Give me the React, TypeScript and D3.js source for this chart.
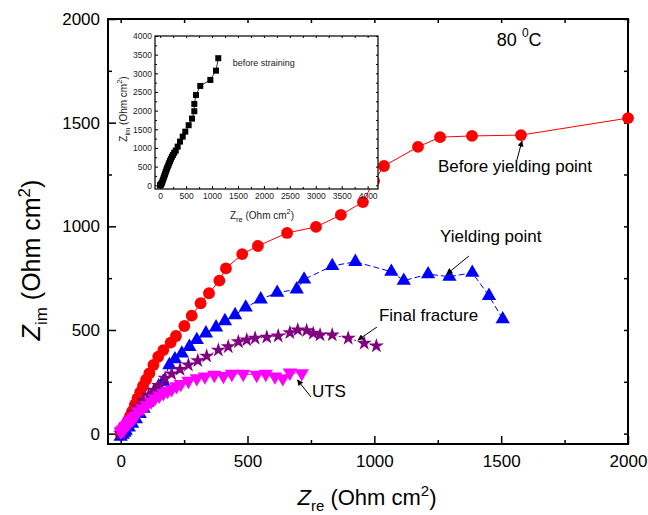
import React, { useEffect, useRef } from "react";
import * as d3 from "d3";

// Nyquist data, Ohm cm^2
const beforeYielding = [
  [0, 0], [5, 8], [12, 22], [20, 40], [28, 60], [37, 85], [46, 110], [56, 140], [66, 170],
  [77, 200], [88, 230], [100, 260], [113, 291], [129, 331], [148, 371], [168, 403], [197, 439],
  [218, 471], [251, 519], [280, 569], [315, 629], [348, 677], [389, 738], [415, 797], [479, 866],
  [541, 905], [656, 968], [770, 997], [868, 1055], [955, 1117], [999, 1219], [1038, 1291],
  [1172, 1383], [1259, 1430], [1385, 1436], [1578, 1440], [2000, 1522],
];
const yielding = [
  [0, -15], [8, -5], [15, 5], [20, 15], [32, 30], [45, 48], [60, 70], [75, 95], [90, 120],
  [105, 150], [120, 175], [135, 200], [150, 228], [168, 250], [192, 331], [214, 359], [241, 387],
  [271, 419], [300, 452], [336, 484], [376, 513], [411, 543], [451, 572], [493, 609], [552, 648],
  [617, 680], [694, 696], [723, 744], [834, 809], [925, 829], [1067, 781], [1116, 738],
  [1212, 769], [1296, 757], [1386, 776], [1452, 665], [1506, 552],
];
const finalFracture = [
  [0, 0], [3, 5], [10, 20], [20, 40], [35, 70], [50, 100], [70, 130], [90, 160], [110, 185],
  [130, 210], [150, 232], [175, 267], [201, 288], [234, 310], [267, 331], [304, 352], [339, 374],
  [385, 403], [424, 419], [464, 443], [497, 452], [530, 460], [576, 465], [621, 471], [667, 487],
  [698, 500], [733, 497], [759, 484], [786, 476], [834, 476], [897, 460], [960, 436], [1008, 423],
];
const uts = [
  [0, 10], [5, 14], [10, 20], [15, 28], [20, 36], [26, 44], [32, 52], [38, 60], [45, 68],
  [52, 77], [60, 87], [69, 106], [86, 122], [103, 138], [120, 155], [135, 170], [152, 183],
  [168, 195], [185, 205], [201, 214], [220, 228], [237, 239], [267, 254], [300, 267], [332, 275],
  [369, 283], [405, 278], [438, 288], [483, 288], [536, 283], [572, 288], [608, 275], [639, 267],
  [667, 294], [714, 291],
];
const beforeStraining = [
  [0, 0], [2, 2], [8, 10], [18, 30], [30, 60], [42, 100], [55, 150], [68, 200], [80, 250],
  [92, 300], [105, 350], [118, 400], [130, 450], [145, 500], [160, 550], [175, 600], [190, 650],
  [205, 700], [225, 760], [245, 810], [270, 870], [300, 930], [337, 1035], [382, 1170],
  [434, 1303], [484, 1437], [549, 1609], [613, 1786], [658, 1984], [658, 2180], [690, 2418],
  [773, 2662], [967, 2823], [1076, 3072], [1120, 3405],
];

const mainTicks = [0, 500, 1000, 1500, 2000];
const mainMinor = [250, 750, 1250, 1750];
const insetTicks = [0, 500, 1000, 1500, 2000, 2500, 3000, 3500, 4000];
const insetMinor = [250, 750, 1250, 1750, 2250, 2750, 3250, 3750];

const FONT = "Arial, 'Liberation Sans', sans-serif";

const App = () => {
  const ref = useRef();

  useEffect(() => {
    const svg = d3.select(ref.current);
    svg.selectAll("*").remove();

    const x = d3.scaleLinear([-50, 2000], [108, 628]);
    const y = d3.scaleLinear([-50, 2000], [444, 19]);

    svg
      .append("defs")
      .append("marker")
      .attr("id", "arr")
      .attr("viewBox", "0 0 10 10")
      .attr("refX", 9)
      .attr("refY", 5)
      .attr("markerWidth", 8)
      .attr("markerHeight", 6)
      .attr("markerUnits", "userSpaceOnUse")
      .attr("orient", "auto")
      .append("path")
      .attr("d", "M0,0 L10,5 L0,10 z")
      .attr("fill", "#000");

    // axes with inward ticks
    const axisStyle = (g, size) =>
      g
        .call((g) => g.select(".domain").remove())
        .attr("font-family", FONT)
        .attr("font-size", size)
        .call((g) => g.selectAll("text").attr("fill", "#000"))
        .call((g) => g.selectAll("line").attr("stroke", "#000").attr("stroke-width", 1.5));

    svg.append("g").attr("transform", "translate(108,0)")
      .call(d3.axisLeft(y).tickValues(mainTicks).tickSize(-8).tickPadding(8).tickFormat(d3.format("d")))
      .call((g) => axisStyle(g, 17));
    svg.append("g").attr("transform", "translate(108,0)")
      .call(d3.axisLeft(y).tickValues(mainMinor).tickSize(-4).tickFormat(() => ""))
      .call((g) => axisStyle(g, 17));
    svg.append("g").attr("transform", "translate(628,0)")
      .call(d3.axisRight(y).tickValues(mainTicks.concat(mainMinor)).tickSize(-4).tickFormat(() => ""))
      .call((g) => axisStyle(g, 17));
    svg.append("g").attr("transform", "translate(0,444)")
      .call(d3.axisBottom(x).tickValues(mainTicks).tickSize(-8).tickPadding(11).tickFormat(d3.format("d")))
      .call((g) => axisStyle(g, 17));
    svg.append("g").attr("transform", "translate(0,444)")
      .call(d3.axisBottom(x).tickValues(mainMinor).tickSize(-4).tickFormat(() => ""))
      .call((g) => axisStyle(g, 17));
    svg.append("g").attr("transform", "translate(0,19)")
      .call(d3.axisTop(x).tickValues(mainTicks.concat(mainMinor)).tickSize(-4).tickFormat(() => ""))
      .call((g) => axisStyle(g, 17));

    svg.append("rect")
      .attr("x", 108).attr("y", 19).attr("width", 520).attr("height", 425)
      .attr("fill", "none").attr("stroke", "#000").attr("stroke-width", 2);

    // axis titles
    const xt = svg.append("text").attr("x", 367).attr("y", 505)
      .attr("text-anchor", "middle").attr("font-family", FONT).attr("font-size", 22);
    xt.append("tspan").attr("font-style", "italic").text("Z");
    xt.append("tspan").attr("font-size", 15).attr("dy", 6).text("re");
    xt.append("tspan").attr("dy", -6).text(" (Ohm cm");
    xt.append("tspan").attr("font-size", 15).attr("dy", -9).text("2");
    xt.append("tspan").attr("dy", 9).text(")");

    const yt = svg.append("text").attr("transform", "translate(40,260) rotate(-90)")
      .attr("text-anchor", "middle").attr("font-family", FONT).attr("font-size", 25);
    yt.append("tspan").attr("font-style", "italic").text("Z");
    yt.append("tspan").attr("font-size", 17).attr("dy", 7).text("im");
    yt.append("tspan").attr("dy", -7).text(" (Ohm cm");
    yt.append("tspan").attr("font-size", 17).attr("dy", -10).text("2");
    yt.append("tspan").attr("dy", 10).text(")");

    // series
    const series = [
      { data: beforeYielding, color: "#FF0000", shape: d3.symbolCircle, size: 110, rot: 0, dash: null },
      { data: yielding, color: "#0000FF", shape: d3.symbolTriangle, size: 88, rot: 0, dash: "6,3" },
      { data: finalFracture, color: "#800080", shape: d3.symbolStar, size: 70, rot: 0, dash: "2,2" },
      { data: uts, color: "#FF00FF", shape: d3.symbolTriangle, size: 88, rot: 180, dash: "6,2,2,2" },
    ];
    const line = d3.line().x((d) => x(d[0])).y((d) => y(d[1]));
    series.forEach((s) => {
      const g = svg.append("g");
      g.append("path").attr("d", line(s.data)).attr("fill", "none")
        .attr("stroke", s.color).attr("stroke-width", 1)
        .attr("stroke-dasharray", s.dash);
      g.selectAll("path.m").data(s.data).join("path").attr("class", "m")
        .attr("d", d3.symbol(s.shape, s.size))
        .attr("transform", (d) => `translate(${x(d[0])},${y(d[1])}) rotate(${s.rot})`)
        .attr("fill", s.color);
    });

    // annotations
    const note = (tx, ty, label, ax1, ay1, ax2, ay2) => {
      svg.append("text").attr("x", x(tx)).attr("y", y(ty))
        .attr("font-family", FONT).attr("font-size", 17).attr("fill", "#000").text(label);
      svg.append("line").attr("x1", x(ax1)).attr("y1", y(ay1)).attr("x2", x(ax2)).attr("y2", y(ay2))
        .attr("stroke", "#000").attr("stroke-width", 1).attr("marker-end", "url(#arr)");
    };
    note(1251, 1262, "Before yielding point", 1562, 1320, 1582, 1411);
    note(1259, 924, "Yielding point", 1373, 857, 1286, 770);
    note(1018, 543, "Final fracture", 1010, 514, 936, 452);
    note(754, 177, "UTS", 750, 177, 697, 259);

    const temp = svg.append("text").attr("x", x(1483)).attr("y", y(1869))
      .attr("font-family", FONT).attr("font-size", 18);
    temp.append("tspan").text("80 ");
    temp.append("tspan").attr("font-size", 12).attr("dy", -9).text("0");
    temp.append("tspan").attr("dy", 9).text("C");

    // inset
    const ix = d3.scaleLinear([-100, 4200], [155, 378]);
    const iy = d3.scaleLinear([-100, 4000], [189, 36]);
    const inset = svg.append("g");
    inset.append("rect").attr("x", 155).attr("y", 36).attr("width", 223).attr("height", 153)
      .attr("fill", "#fff").attr("stroke", "none");
    const small = (g) =>
      g.call((g) => g.select(".domain").remove())
        .attr("font-family", FONT).attr("font-size", 8.5)
        .call((g) => g.selectAll("text").attr("fill", "#222"))
        .call((g) => g.selectAll("line").attr("stroke", "#000"));
    inset.append("g").attr("transform", "translate(155,0)")
      .call(d3.axisLeft(iy).tickValues(insetTicks).tickSize(-3).tickPadding(3).tickFormat(d3.format("d")))
      .call(small);
    inset.append("g").attr("transform", "translate(155,0)")
      .call(d3.axisLeft(iy).tickValues(insetMinor).tickSize(-2).tickFormat(() => "")).call(small);
    inset.append("g").attr("transform", "translate(0,189)")
      .call(d3.axisBottom(ix).tickValues(insetTicks).tickSize(-3).tickPadding(4).tickFormat(d3.format("d")))
      .call(small);
    inset.append("g").attr("transform", "translate(0,189)")
      .call(d3.axisBottom(ix).tickValues(insetMinor).tickSize(-2).tickFormat(() => "")).call(small);
    inset.append("g").attr("transform", "translate(0,36)")
      .call(d3.axisTop(ix).tickValues(insetTicks.concat(insetMinor)).tickSize(-2).tickFormat(() => "")).call(small);
    inset.append("g").attr("transform", "translate(378,0)")
      .call(d3.axisRight(iy).tickValues(insetTicks.concat(insetMinor)).tickSize(-2).tickFormat(() => "")).call(small);
    inset.append("rect").attr("x", 155).attr("y", 36).attr("width", 223).attr("height", 153)
      .attr("fill", "none").attr("stroke", "#000").attr("stroke-width", 1.2);

    const iline = d3.line().x((d) => ix(d[0])).y((d) => iy(d[1]));
    inset.append("path").attr("d", iline(beforeStraining)).attr("fill", "none")
      .attr("stroke", "#000").attr("stroke-width", 0.8);
    inset.selectAll("path.sq").data(beforeStraining).join("path").attr("class", "sq")
      .attr("d", d3.symbol(d3.symbolSquare, 36))
      .attr("transform", (d) => `translate(${ix(d[0])},${iy(d[1])})`)
      .attr("fill", "#000");

    inset.append("text").attr("x", ix(1400)).attr("y", iy(3200))
      .attr("font-family", FONT).attr("font-size", 9).attr("fill", "#222").text("before straining");

    const ixt = inset.append("text").attr("x", 262).attr("y", 219)
      .attr("text-anchor", "middle").attr("font-family", FONT).attr("font-size", 10).attr("fill", "#222");
    ixt.append("tspan").text("Z");
    ixt.append("tspan").attr("font-size", 7.5).attr("dy", 3).text("re");
    ixt.append("tspan").attr("dy", -3).text(" (Ohm cm");
    ixt.append("tspan").attr("font-size", 7.5).attr("dy", -5).text("2");
    ixt.append("tspan").attr("dy", 5).text(")");

    const iyt = inset.append("text").attr("transform", "translate(127,109) rotate(-90)")
      .attr("text-anchor", "middle").attr("font-family", FONT).attr("font-size", 10).attr("fill", "#222");
    iyt.append("tspan").text("Z");
    iyt.append("tspan").attr("font-size", 7.5).attr("dy", 3).text("im");
    iyt.append("tspan").attr("dy", -3).text(" (Ohm cm");
    iyt.append("tspan").attr("font-size", 7.5).attr("dy", -5).text("2");
    iyt.append("tspan").attr("dy", 5).text(")");
  }, []);

  return (
    <svg
      ref={ref}
      width={648}
      height={515}
      style={{ position: "absolute", left: 0, top: 0, background: "#fff" }}
    ></svg>
  );
};

export default App;
